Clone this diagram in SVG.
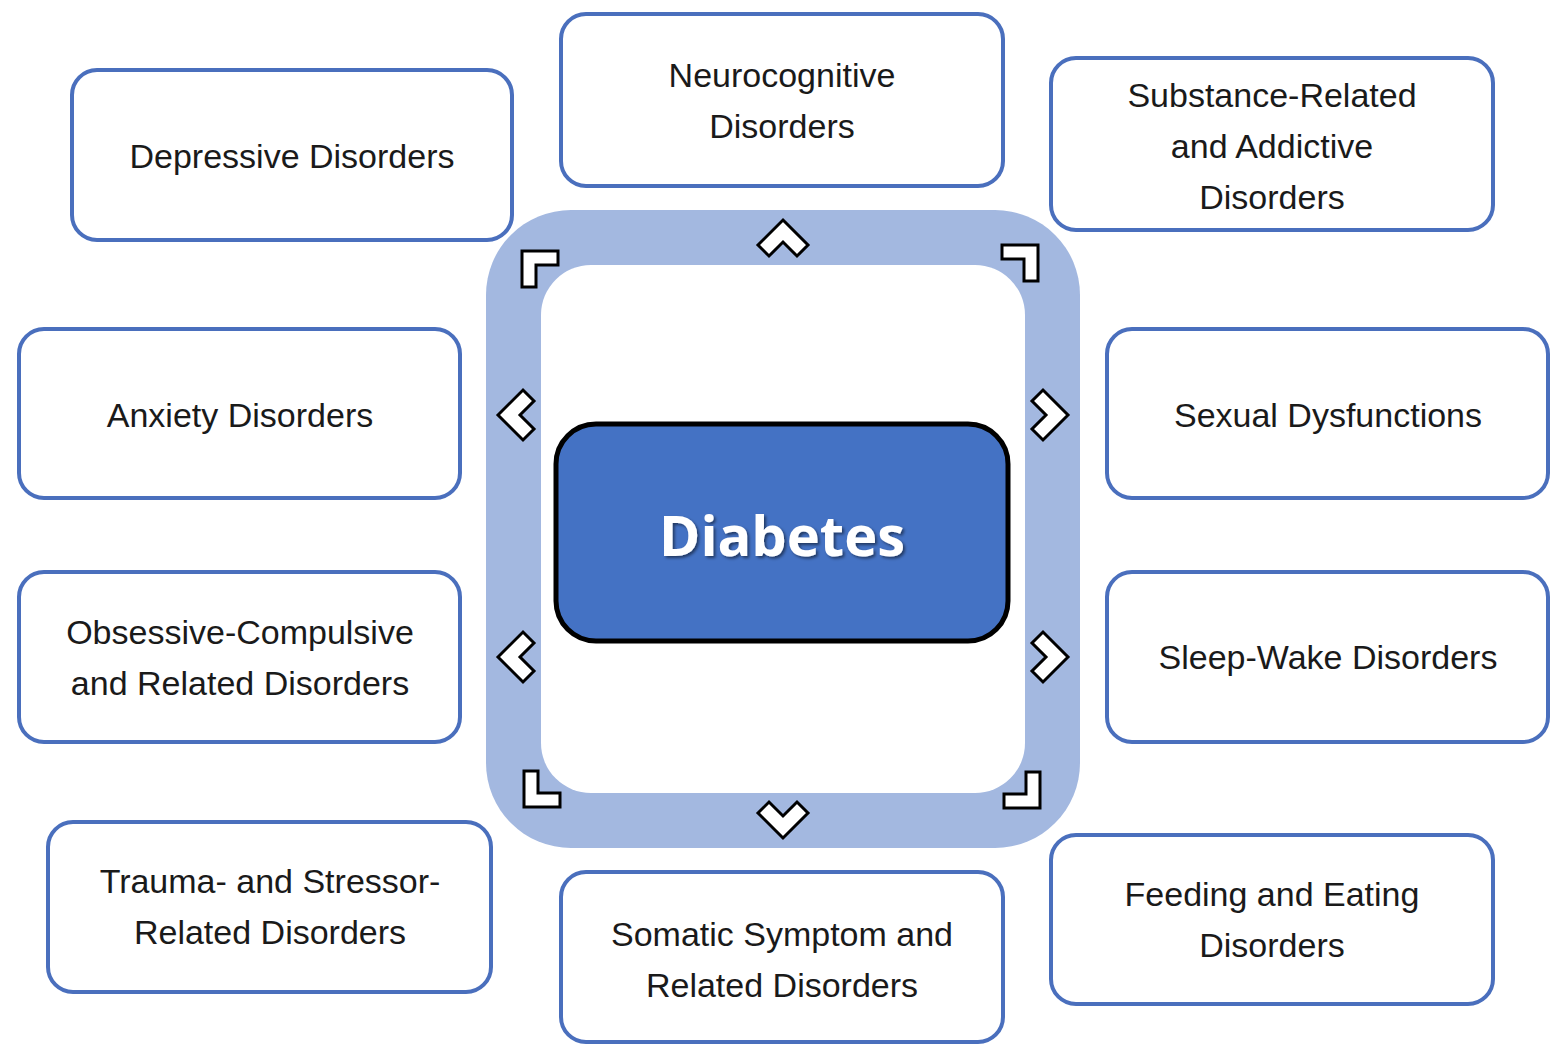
<svg xmlns="http://www.w3.org/2000/svg" width="1563" height="1058" viewBox="0 0 1563 1058">
<style>
.box{fill:#fff;stroke:#4a6fbd;stroke-width:4}
.t{font-family:"Liberation Sans",Arial,sans-serif;font-size:34px;fill:#1a1a1a;text-anchor:middle}
.ch{fill:#fff;stroke:#000;stroke-width:3;stroke-linejoin:miter}
</style>
<defs>
<polygon id="chev" points="0,-20 25,5 14,16 0,2 -14,16 -25,5"/>
<polygon id="ell" points="0,0 36,0 36,14 14,14 14,36 0,36"/>
<filter id="sh"><feDropShadow dx="2" dy="2" stdDeviation="1.5" flood-color="#000" flood-opacity="0.5"/></filter>
</defs>
<rect width="1563" height="1058" fill="#fff"/>
<g id="ring">
<rect x="486" y="210" width="594" height="638" rx="85" fill="#a3b8e0"/>
<rect x="541" y="265" width="484" height="528" rx="50" fill="#fff"/>
</g>
<g id="connectors">
<use href="#chev" class="ch" transform="translate(783,240)"/>
<use href="#chev" class="ch" transform="translate(783,818) rotate(180)"/>
<use href="#chev" class="ch" transform="translate(518,415) rotate(-90)"/>
<use href="#chev" class="ch" transform="translate(518,657) rotate(-90)"/>
<use href="#chev" class="ch" transform="translate(1048,415) rotate(90)"/>
<use href="#chev" class="ch" transform="translate(1048,657) rotate(90)"/>
<use href="#ell" class="ch" transform="translate(522,251)"/>
<use href="#ell" class="ch" transform="translate(1038,245) scale(-1,1)"/>
<use href="#ell" class="ch" transform="translate(524,807) scale(1,-1)"/>
<use href="#ell" class="ch" transform="translate(1040,808) scale(-1,-1)"/>
</g>
<g id="diabetes">
<rect x="556" y="424" width="452" height="217" rx="40" fill="#4472c4" stroke="#000" stroke-width="5"/>
<text x="782" y="556" font-family="'Open Sans','Liberation Sans',sans-serif" font-size="56" font-weight="bold" fill="#fff" text-anchor="middle" filter="url(#sh)">Diabetes</text>
</g>
<g id="depressive"><rect class="box" x="72" y="70" width="440" height="170" rx="25"/><text class="t" x="292" y="168">Depressive Disorders</text></g>
<g id="neuro"><rect class="box" x="561" y="14" width="442" height="172" rx="25"/><text class="t" x="782" y="87">Neurocognitive</text><text class="t" x="782" y="138">Disorders</text></g>
<g id="substance"><rect class="box" x="1051" y="58" width="442" height="172" rx="25"/><text class="t" x="1272" y="107">Substance-Related</text><text class="t" x="1272" y="158">and Addictive</text><text class="t" x="1272" y="209">Disorders</text></g>
<g id="anxiety"><rect class="box" x="19" y="329" width="441" height="169" rx="25"/><text class="t" x="240" y="427">Anxiety Disorders</text></g>
<g id="sexual"><rect class="box" x="1107" y="329" width="441" height="169" rx="25"/><text class="t" x="1328" y="427">Sexual Dysfunctions</text></g>
<g id="ocd"><rect class="box" x="19" y="572" width="441" height="170" rx="25"/><text class="t" x="240" y="644">Obsessive-Compulsive</text><text class="t" x="240" y="695">and Related Disorders</text></g>
<g id="sleep"><rect class="box" x="1107" y="572" width="441" height="170" rx="25"/><text class="t" x="1328" y="669">Sleep-Wake Disorders</text></g>
<g id="trauma"><rect class="box" x="48" y="822" width="443" height="170" rx="25"/><text class="t" x="270" y="893">Trauma- and Stressor-</text><text class="t" x="270" y="944">Related Disorders</text></g>
<g id="somatic"><rect class="box" x="561" y="872" width="442" height="170" rx="25"/><text class="t" x="782" y="946">Somatic Symptom and</text><text class="t" x="782" y="997">Related Disorders</text></g>
<g id="feeding"><rect class="box" x="1051" y="835" width="442" height="169" rx="25"/><text class="t" x="1272" y="906">Feeding and Eating</text><text class="t" x="1272" y="957">Disorders</text></g>
</svg>
